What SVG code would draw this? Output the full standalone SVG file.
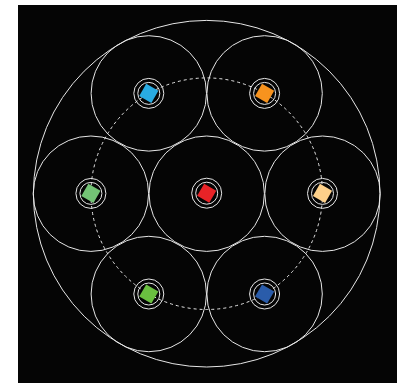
<svg xmlns="http://www.w3.org/2000/svg" width="407" height="383" viewBox="0 0 407 383">
<style>
.ring{fill:none;stroke:#e6e6e6;stroke-width:1}
.dash{fill:none;stroke:#e6e6e6;stroke-width:1;stroke-dasharray:3 3}
.nr{fill:none;stroke:#e6e6e6;stroke-width:1}
.sq{stroke:none}
</style>
<rect x="0" y="0" width="407" height="383" fill="#ffffff"/>
<rect x="18" y="5" width="379" height="378" fill="#050505"/>
<g id="connectors">
<circle class="ring" cx="206.7" cy="193.7" r="173.3"/>
<circle class="dash" cx="206.7" cy="193.7" r="115.8"/>
<circle class="ring" cx="206.7" cy="193.7" r="57.7"/>
<circle class="ring" cx="148.8" cy="93.4" r="57.7"/>
<circle class="ring" cx="264.6" cy="93.4" r="57.7"/>
<circle class="ring" cx="90.9" cy="193.7" r="57.7"/>
<circle class="ring" cx="322.5" cy="193.7" r="57.7"/>
<circle class="ring" cx="148.8" cy="294" r="57.7"/>
<circle class="ring" cx="264.6" cy="294" r="57.7"/>
</g>
<defs>
<g id="rings">
<circle class="nr" r="15"/>
<circle class="nr" r="11"/>
</g>
</defs>
<g id="node-center" transform="translate(206.7,193.2)"><use href="#rings"/><rect class="sq" x="-7" y="-7" width="14" height="14" fill="#e82327" transform="rotate(30)"/></g>
<g id="node-tl" transform="translate(148.8,93.4)"><use href="#rings"/><rect class="sq" x="-7" y="-7" width="14" height="14" fill="#29abe2" transform="rotate(30)"/></g>
<g id="node-tr" transform="translate(264.6,93.4)"><use href="#rings"/><rect class="sq" x="-7" y="-7" width="14" height="14" fill="#f7931e" transform="rotate(30)"/></g>
<g id="node-l" transform="translate(90.9,193.4)"><use href="#rings"/><rect class="sq" x="-7" y="-7" width="14" height="14" fill="#74c476" transform="rotate(30)"/></g>
<g id="node-r" transform="translate(322.5,193.4)"><use href="#rings"/><rect class="sq" x="-7" y="-7" width="14" height="14" fill="#fdd08a" transform="rotate(30)"/></g>
<g id="node-bl" transform="translate(148.8,294)"><use href="#rings"/><rect class="sq" x="-7" y="-7" width="14" height="14" fill="#6abf40" transform="rotate(30)"/></g>
<g id="node-br" transform="translate(264.6,294)"><use href="#rings"/><rect class="sq" x="-7" y="-7" width="14" height="14" fill="#2a5caa" transform="rotate(30)"/></g>
</svg>
